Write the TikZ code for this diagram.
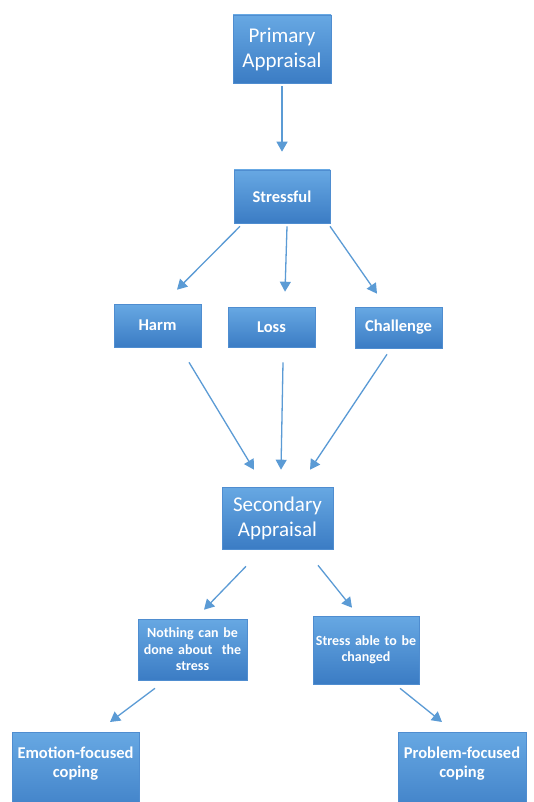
\documentclass[tikz,border=0pt]{standalone}
\usepackage{fontspec}
\setmainfont{Carlito}
\usetikzlibrary{arrows.meta}
\definecolor{boxtop}{HTML}{67A8E3}
\definecolor{boxbot}{HTML}{3B7CC4}
\definecolor{boxedge}{HTML}{4F8DD0}
\definecolor{arrowc}{HTML}{5B9BD5}
\tikzset{
  box/.style={rectangle, top color=boxtop, bottom color=boxbot, draw=boxedge, line width=0.6pt,
    text=white, align=center, inner sep=2pt},
  bigtxt/.style={font=\fontsize{21}{25}\selectfont},
  smalltxt/.style={font=\bfseries\fontsize{16.5}{19}\selectfont},
  tinytxt/.style={font=\bfseries\fontsize{14}{16.5}\selectfont},
  lbl/.style={text=white, align=center, inner sep=0pt},
  arr/.style={draw=arrowc, line width=1.3pt, -{Triangle[length=10pt,width=11pt]}}
}
\begin{document}
\begin{tikzpicture}[x=1pt,y=-1pt]
\clip (0,0) rectangle (533,802);
\fill[white] (0,0) rectangle (533,802);
\node[box,bigtxt,minimum width=98pt,minimum height=68pt] (prim) at (282,49) {Primary\\Appraisal};
\node[box,smalltxt,minimum width=96pt,minimum height=53pt] (stress) at (282,196.5) {Stressful};
\node[box,smalltxt,minimum width=87pt,minimum height=43pt] (harm) at (157.5,325.5) {Harm};
\node[box,smalltxt,minimum width=87pt,minimum height=40pt] (loss) at (271.5,327) {Loss};
\node[box,smalltxt,minimum width=87pt,minimum height=41pt] (chal) at (398.5,327.5) {Challenge};
\node[box,bigtxt,minimum width=111pt,minimum height=62pt] (sec) at (277.5,518) {Secondary\\Appraisal};
\node[box,tinytxt,minimum width=109pt,minimum height=61pt,text width=105pt] (noth) at (192.5,649.5) {Nothing can be\\done about\ \ the\\stress};
\node[box,tinytxt,minimum width=104pt,minimum height=68pt,text width=102pt] (able) at (366,650) {Stress able to be\\changed};
\node[box,minimum width=127pt,minimum height=90pt,anchor=north] (emo) at (75.5,732) {};
\node[lbl,smalltxt] (emot) at (75.5,764) {Emotion-focused\\coping};
\node[box,minimum width=128pt,minimum height=90pt,anchor=north] (prob) at (462,732) {};
\node[lbl,smalltxt] (probt) at (462,764) {Problem-focused\\coping};

\draw[arr] ([yshift=-3pt]prim.south) -- ([yshift=18pt]stress.north);
\draw[arr] ([xshift=-42pt,yshift=-3pt]stress.south) -- ([xshift=19.5pt,yshift=14pt]harm.north);
\draw[arr] ([xshift=5pt,yshift=-3pt]stress.south) -- ([xshift=13.5pt,yshift=15pt]loss.north);
\draw[arr] ([xshift=48pt,yshift=-3pt]stress.south) -- ([xshift=-21.5pt,yshift=13pt]chal.north);
\draw[arr] ([xshift=31.5pt,yshift=-15pt]harm.south) -- ([xshift=-23.5pt,yshift=17pt]sec.north);
\draw[arr] ([xshift=11.5pt,yshift=-15pt]loss.south) -- ([xshift=3.5pt,yshift=17pt]sec.north);
\draw[arr] ([xshift=-11.5pt,yshift=-6pt]chal.south) -- ([xshift=32.5pt,yshift=17pt]sec.north);
\draw[arr] ([xshift=-31.5pt,yshift=-17pt]sec.south) -- ([xshift=11.5pt,yshift=9pt]noth.north);
\draw[arr] ([xshift=40.5pt,yshift=-16pt]sec.south) -- ([xshift=-14pt,yshift=8pt]able.north);
\draw[arr] ([xshift=-37.5pt,yshift=-8pt]noth.south) -- ([xshift=34.5pt,yshift=10pt]emo.north);
\draw[arr] ([xshift=34pt,yshift=-4pt]able.south) -- ([xshift=-20pt,yshift=10pt]prob.north);
\end{tikzpicture}
\end{document}
